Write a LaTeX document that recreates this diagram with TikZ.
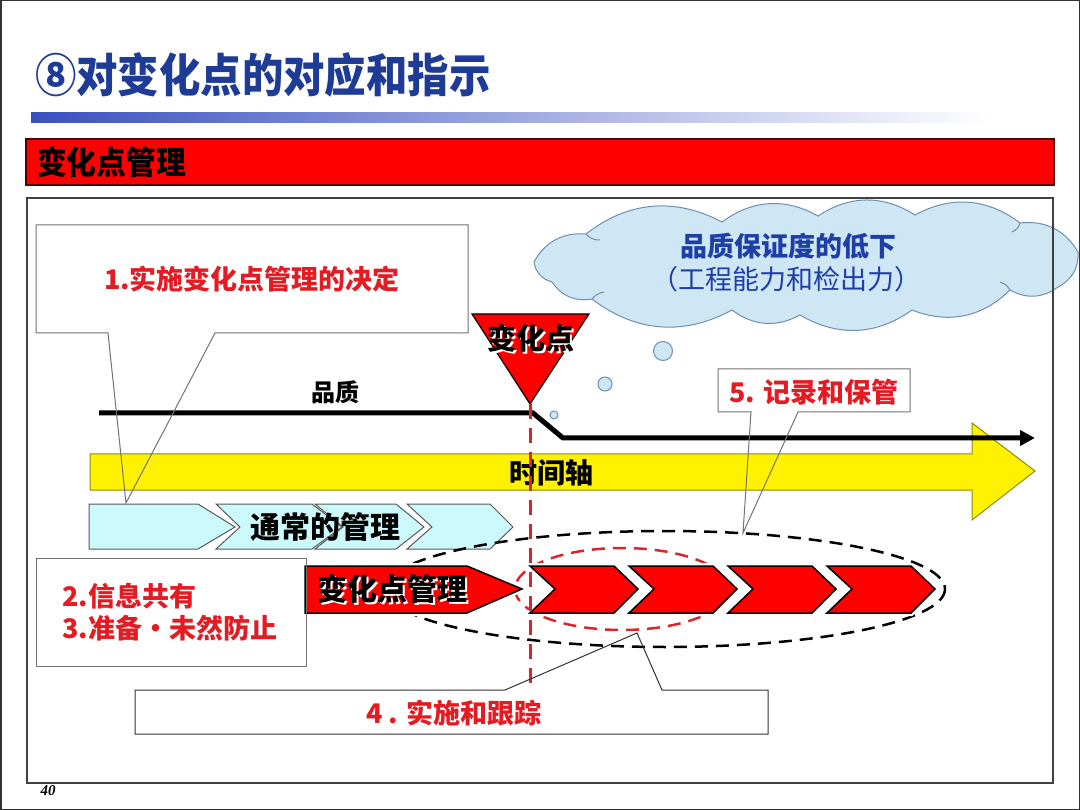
\documentclass[tikz,border=0pt]{standalone}
\usepackage{fontspec}
\setmainfont{Noto Sans CJK SC}
\newfontfamily\numfont{Liberation Serif}
\usetikzlibrary{arrows.meta}
\definecolor{titleblue}{HTML}{1E3C96}
\definecolor{txtred}{HTML}{E31B23}
\definecolor{cloudfill}{HTML}{CFE6F5}
\definecolor{cloudline}{HTML}{6F8FB0}
\definecolor{cloudtext}{HTML}{1E3FA8}
\definecolor{cyanfill}{HTML}{CCFAFC}
\definecolor{dashred}{HTML}{D9262B}
\definecolor{barblue}{HTML}{3A50C0}
\definecolor{axisline}{HTML}{8A8A10}
\begin{document}
\begin{tikzpicture}[x=1pt,y=-1pt,
  callline/.style={draw=black!55,line width=1pt},
  cyanchev/.style={fill=cyanfill,draw=black!65,line width=1pt,line join=miter},
  redchev/.style={fill=red,draw=black,line width=1.5pt,line join=miter},
  redhalo/.style={draw=white,line width=6pt,line join=miter},
  redtxt/.style={text=txtred,font=\fontsize{27}{32}\selectfont\bfseries,inner sep=0pt},
  blktxt/.style={text=black,inner sep=0pt},
  bubble/.style={fill=cloudfill,draw=cloudline,line width=1pt},
  puff/.style={bend left=33}]
\useasboundingbox (0,0) rectangle (1080,810);
\fill[white] (0,0) rectangle (1080,810);
\draw[black!80,line width=1.5pt] (0.75,0.75) rectangle (1079.25,809.25);

% title
\node[anchor=west,inner sep=0pt,text=titleblue,font=\fontsize{46}{50}\selectfont\bfseries] (title) at (35,75) {\scalebox{0.9}[1]{⑧对变化点的对应和指示}};
\shade[left color=barblue,right color=white] (31,113) rectangle (990,123);

% header bar
\draw[fill=red,draw=black!70!red,line width=1.2pt] (26,139) rectangle (1054,185);
\node[anchor=west,blktxt,font=\fontsize{32}{34}\selectfont\bfseries] (head) at (37,162) {\scalebox{0.93}[1]{变化点管理}};

% frame fill
\fill[white] (27,198) rectangle (1053,783);

% cloud and bubbles
\draw[fill=cloudfill,draw=cloudline,line width=1pt]
  (534,262) to[puff] (586,234) to[puff] (722,222) to[puff] (818,216)
  to[puff] (915,215) to[puff] (1020,223) to[puff] (1078,252)
  to[puff] (1058,287) to[puff] (1010,290) to[puff] (912,310)
  to[puff] (800,315) to[puff] (732,310) to[puff] (592,299)
  to[puff] (552,282) to[puff] (534,262) -- cycle;
\draw[cloudline,line width=1pt] (586,234) to[bend right=25] (600,240);
\draw[cloudline,line width=1pt] (1020,223) to[bend left=25] (1012,232);
\draw[cloudline,line width=1pt] (592,299) to[bend left=20] (604,292);
\draw[cloudline,line width=1pt] (1010,290) to[bend right=20] (1000,282);
\node[text=cloudtext,font=\fontsize{27}{30}\selectfont\bfseries,inner sep=0pt] (cl1) at (788,246) {品质保证度的低下};
\node[text=cloudtext,font=\fontsize{27}{30}\selectfont,inner sep=0pt] (cl2) at (786,279) {（工程能力和检出力）};
\draw[bubble] (663,351) circle (9.5);
\draw[bubble] (605,384) circle (7);
\draw[bubble] (554,415) circle (4);

% callout box fills
\fill[white] (36,225) rectangle (468,333);
\fill[white] (36,558) rectangle (306,666);
\fill[white] (135,690) rectangle (768,734);
\fill[white] (718,369) rectangle (910,412);

% time axis arrow
\draw[fill=yellow,draw=axisline,line width=1pt,line join=miter] (90,454) -- (972,454) -- (972,423) -- (1035,471) -- (972,520) -- (972,490) -- (90,490) -- cycle;
\node[blktxt,font=\fontsize{28}{32}\selectfont\bfseries] (axis) at (551,473) {时间轴};

% normal management chevrons
\draw[cyanchev] (89,504) -- (198,504) -- (235,527) -- (198,549) -- (89,549) -- cycle;
\draw[cyanchev] (216,504) -- (312,504) -- (342,527) -- (312,549) -- (216,549) -- (240,527) -- cycle;
\draw[cyanchev] (315,504) -- (396,504) -- (424,527) -- (396,549) -- (315,549) -- (343,527) -- cycle;
\draw[cyanchev] (407,504) -- (490,504) -- (513,527) -- (490,549) -- (407,549) -- (432,527) -- cycle;
\node[blktxt,font=\fontsize{30}{34}\selectfont\bfseries] (normal) at (325,527) {通常的管理};

% dashed ellipses
\draw[black,line width=2.5pt,dash pattern=on 13pt off 8pt] (665,589) ellipse [x radius=280,y radius=58];
\draw[dashred,line width=2.5pt,dash pattern=on 13pt off 8pt] (622,589) ellipse [x radius=107,y radius=41];

% change point management
\draw[redhalo] (305,566) -- (467,566) -- (522,589) -- (467,613) -- (305,613) -- cycle;
\draw[redchev] (305,566) -- (467,566) -- (522,589) -- (467,613) -- (305,613) -- cycle;
\foreach \a in {530,629,728,827}{
  \draw[redhalo] (\a,566) -- ({\a+84},566) -- ({\a+108},589) -- ({\a+84},613) -- (\a,613) -- ({\a+25},589) -- cycle;
}
\foreach \a in {530,629,728,827}{
  \draw[redchev] (\a,566) -- ({\a+84},566) -- ({\a+108},589) -- ({\a+84},613) -- (\a,613) -- ({\a+25},589) -- cycle;
}
\node[text=white,inner sep=0pt,font=\fontsize{30}{34}\selectfont\bfseries] at (394,591) {变化点管理};
\node[blktxt,font=\fontsize{30}{34}\selectfont\bfseries] (cpm) at (392,589) {变化点管理};

% change point triangle
\draw[fill=red,draw=black,line width=1.2pt,line join=miter] (472,314) -- (589,314) -- (530,404) -- cycle;
\coordinate (tip) at (530,404);
\node[text=white,inner sep=0pt,font=\fontsize{29}{32}\selectfont\bfseries] at (533,340) {变化点};
\node[blktxt,font=\fontsize{29}{32}\selectfont\bfseries] (cp) at (531,338) {变化点};

% quality line
\node[blktxt,font=\fontsize{24}{28}\selectfont\bfseries] (q) at (335,392) {品质};
\draw[line width=5pt,line join=miter,-{Triangle[length=15pt,width=15pt]}] (99,413) -- (533,413) -- (563,438) -- (1035,438);

% red dashed vertical
\coordinate (vend) at (530,686);
\draw[dashred,line width=3pt,dash pattern=on 15pt off 9pt] (tip) -- (vend);

% callout outlines
\draw[callline,line join=miter] (36,225) -- (468,225) -- (468,333) -- (215,333) -- (126,503) -- (108,333) -- (36,333) -- cycle;
\draw[callline] (36,558) rectangle (306,666);
\draw[draw=black!80,line width=1pt,line join=miter] (135,690) -- (505,690) -- (637,633) -- (662,690) -- (768,690) -- (768,734) -- (135,734) -- cycle;
\draw[callline,line join=miter] (718,369) -- (910,369) -- (910,412) -- (798,412) -- (743,533) -- (751,412) -- (718,412) -- cycle;

% callout texts
\node[redtxt] (c1) at (252,279) {1.实施变化点管理的决定};
\node[redtxt,anchor=west,align=left,font=\fontsize{27}{32}\selectfont\bfseries] (c23) at (62,612) {2.信息共有\\3.准备・未然防止};
\node[redtxt] (c4) at (454,713) {4 . 实施和跟踪};
\node[redtxt] (c5) at (814,392) {5. 记录和保管};

% frame border
\draw[draw=black!75,line width=2pt] (27,198) rectangle (1053,783);
\node[inner sep=0pt,font=\numfont\fontsize{15}{16}\selectfont\bfseries\itshape] (pg) at (48,791) {40};
\end{tikzpicture}
\end{document}
